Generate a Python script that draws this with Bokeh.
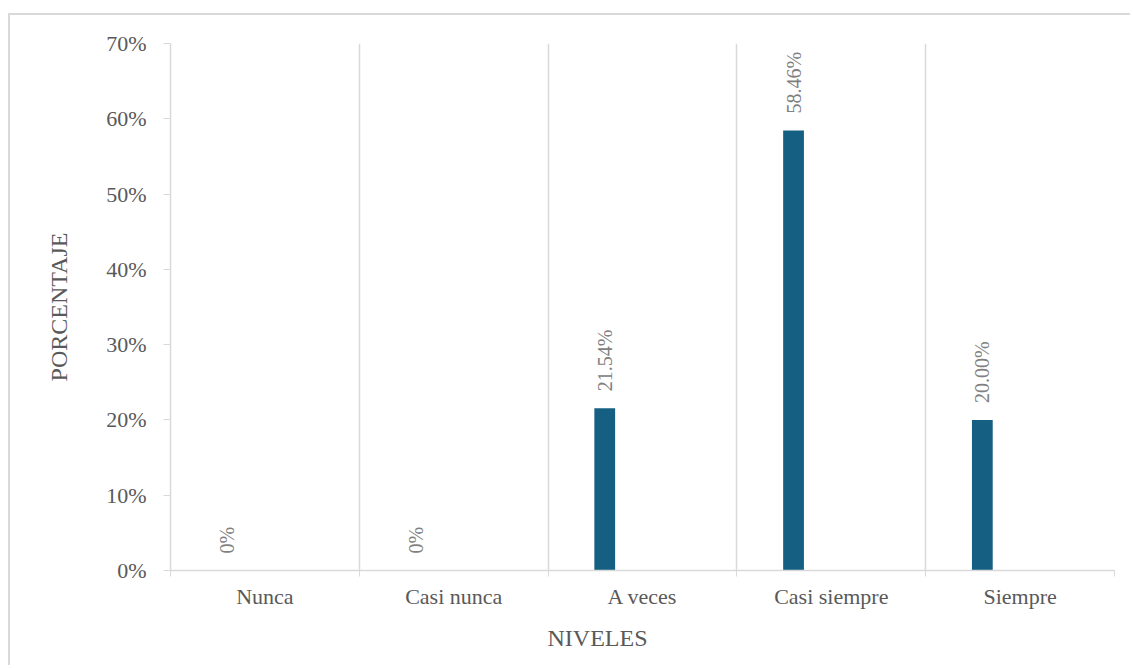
import numpy as np
from bokeh.plotting import figure
from bokeh.models import FixedTicker, PrintfTickFormatter, Range1d, Title, ColumnDataSource
from bokeh.core.properties import value
from bokeh.embed import file_html
from bokeh.resources import INLINE

categories = ["Nunca", "Casi nunca", "A veces", "Casi siempre", "Siempre"]
percentages = [0.0, 0.0, 21.54, 58.46, 20.00]
value_labels = ["0%", "0%", "21.54%", "58.46%", "20.00%"]
y_ticks = [0, 10, 20, 30, 40, 50, 60, 70]

FONT = "Liberation Serif"
BAR = "#156082"
AX = "#d9d9d9"
TXT = "#595959"

idx = np.arange(len(categories))
src = ColumnDataSource(dict(x=idx + 0.3, top=percentages, lab=value_labels))

p = figure(width=1122, height=652, output_backend="svg", toolbar_location=None,
           x_range=Range1d(0, len(categories)), y_range=Range1d(0, 70),
           min_border_left=160, min_border_top=28, min_border_right=18, min_border_bottom=97,
           background_fill_color="white", border_fill_color="white")
p.outline_line_color = None
p.styles = {"border-top": "2px solid #d9d9d9", "border-left": "2px solid #d9d9d9",
            "margin-left": "8px", "margin-top": "13px"}

p.vbar(x="x", top="top", width=0.11, bottom=0, source=src, fill_color=BAR, line_color=None)
p.text(x="x", y="top", text="lab", source=src, angle=np.pi / 2, text_align="left",
       text_baseline="middle", y_offset=-17, text_font=value(FONT), text_font_size="20px",
       text_color="#808080")

# x axis
xa = p.xaxis[0]
xa.ticker = FixedTicker(ticks=list(idx + 0.5), minor_ticks=list(range(len(categories) + 1)))
xa.major_label_overrides = {float(i + 0.5): c for i, c in enumerate(categories)}
xa.major_tick_line_color = None
xa.major_tick_out = 0
xa.major_tick_in = 0
xa.minor_tick_out = 6
xa.minor_tick_in = 0
xa.minor_tick_line_color = AX
xa.axis_line_color = AX
xa.axis_line_width = 1.5
xa.major_label_text_font = FONT
xa.major_label_text_font_size = "22px"
xa.major_label_text_color = TXT
xa.major_label_standoff = 7

# y axis
ya = p.yaxis[0]
ya.ticker = FixedTicker(ticks=y_ticks)
ya.formatter = PrintfTickFormatter(format="%d%%")
ya.axis_line_color = AX
ya.axis_line_width = 1.5
ya.major_tick_line_color = AX
ya.major_tick_out = 7
ya.major_tick_in = 0
ya.minor_tick_line_color = None
ya.major_label_text_font = FONT
ya.major_label_text_font_size = "22px"
ya.major_label_text_color = TXT
ya.major_label_standoff = 17
ya.axis_label = "PORCENTAJE"
ya.axis_label_text_font = FONT
ya.axis_label_text_font_size = "24px"
ya.axis_label_text_font_style = "normal"
ya.axis_label_text_color = TXT
ya.axis_label_standoff = 31

p.ygrid.grid_line_color = None
p.xgrid.ticker = FixedTicker(ticks=list(range(1, len(categories) + 1)))
p.xgrid.grid_line_color = AX
p.xgrid.grid_line_width = 1.5

title_x = Title(text="NIVELES", align="left", offset=377, standoff=23,
                text_font=FONT, text_font_size="24px", text_color=TXT,
                text_font_style="normal")
p.add_layout(title_x, "below")

open("out.html", "w").write(file_html(p, INLINE))
